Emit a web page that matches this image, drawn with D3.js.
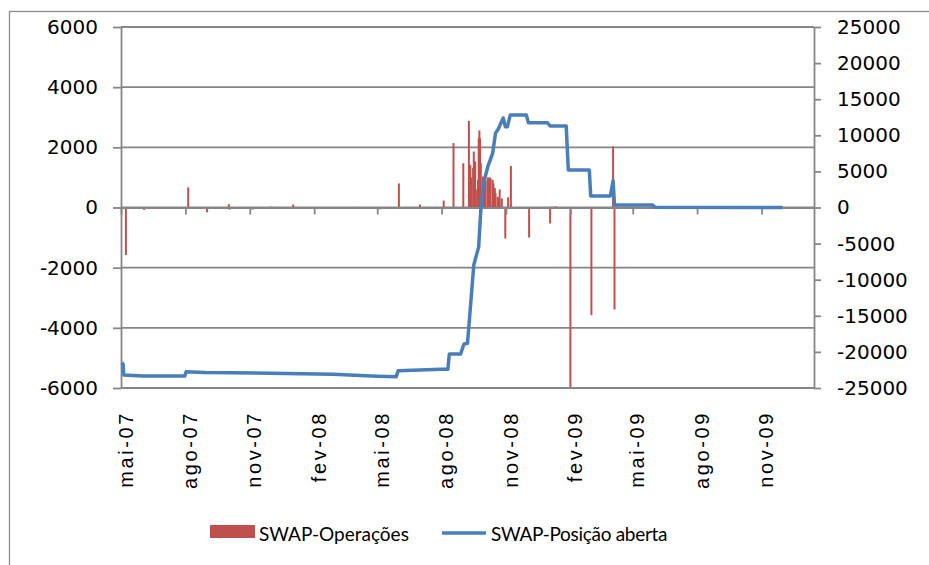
<!DOCTYPE html>
<html lang="pt">
<head>
<meta charset="utf-8">
<title>SWAP</title>
<style>
  body { margin: 0; background: #fff; }
  .axis text { fill: #000; }
  .axis path, .axis line { stroke: #868686; stroke-width: 1.8; }
</style>
</head>
<body>
<div id="graph-div"></div>
<script src="https://d3js.org/d3.v7.min.js"></script>
<script>

// SWAP-Operações (left axis)
var opDates = [
  "2007-05-08", "2007-06-03", "2007-08-05", "2007-09-01", "2007-10-02", "2007-10-03",
  "2007-11-05", "2007-12-02", "2008-01-02", "2008-02-02", "2008-03-03", "2008-04-03",
  "2008-05-05", "2008-06-01", "2008-06-17", "2008-07-01", "2008-08-04", "2008-08-18",
  "2008-09-01", "2008-09-09", "2008-09-10", "2008-09-11", "2008-09-12", "2008-09-15",
  "2008-09-16", "2008-09-17", "2008-09-18", "2008-09-19", "2008-09-22", "2008-09-23",
  "2008-09-24", "2008-09-25", "2008-09-26", "2008-09-29", "2008-09-30", "2008-10-01",
  "2008-10-03", "2008-10-06", "2008-10-07", "2008-10-08", "2008-10-09", "2008-10-10",
  "2008-10-13", "2008-10-14", "2008-10-15", "2008-10-16", "2008-10-17", "2008-10-20",
  "2008-10-21", "2008-10-23", "2008-10-26", "2008-10-31", "2008-11-04", "2008-11-08",
  "2008-12-04", "2009-01-03", "2009-01-06", "2009-01-11", "2009-02-01", "2009-03-03",
  "2009-04-03", "2009-04-05"
];
var opValues = [
  -1580, -80, 670, -160, 110, -70,
  -70, 30, 100, -50, -50, 20,
  -60, 800, -50, 100, 230, 2140,
  1470, 2880, 950, 1420, 1000, 1320,
  1860, 1360, 1530, 600, 920, 2300,
  2560, 2300, 1480, 1030, 920, 860,
  900, 1000, 920, 980, 1000, 970,
  920, 800, 640, 650, 480, 360,
  320, 600, 300, -1030, 340, 1380,
  -1000, -530, 30, 40, -5970, -3580,
  2030, -3390
];

// SWAP-Posição aberta (right axis)
var posDates = [
  "2007-05-02", "2007-05-04", "2007-05-05", "2007-06-01", "2007-07-31", "2007-08-02",
  "2007-08-29", "2007-11-30", "2008-02-28", "2008-05-01", "2008-05-28", "2008-05-31",
  "2008-07-01", "2008-07-30", "2008-08-10", "2008-08-12", "2008-08-28", "2008-09-02",
  "2008-09-07", "2008-09-12", "2008-09-16", "2008-09-23", "2008-09-26", "2008-09-30",
  "2008-10-06", "2008-10-13", "2008-10-17", "2008-10-21", "2008-10-28", "2008-10-31",
  "2008-11-03", "2008-11-07", "2008-11-30", "2008-12-03", "2008-12-30", "2009-01-03",
  "2009-01-26", "2009-01-29", "2009-02-28", "2009-03-02", "2009-03-30", "2009-04-03",
  "2009-04-05", "2009-05-29", "2009-06-02", "2009-12-01"
];
var posValues = [
  -21500, -21700, -23200, -23350, -23350, -22750,
  -22850, -22950, -23100, -23380, -23450, -22600,
  -22500, -22400, -22400, -20300, -20300, -18900,
  -18800, -12800, -7960, -5430, -350, 3390,
  5650, 7540, 10300, 10870, 12400, 11200,
  11200, 12800, 12800, 11750, 11750, 11300,
  11300, 5200, 5200, 1600, 1600, 3700,
  350, 350, 30, 0
];

var tickDates = ["2007-05-01", "2007-08-01", "2007-11-01", "2008-02-01", "2008-05-01", "2008-08-01",
                 "2008-11-01", "2009-02-01", "2009-05-01", "2009-08-01", "2009-11-01"];
var tickLabels = ["mai-07", "ago-07", "nov-07", "fev-08", "mai-08", "ago-08",
                  "nov-08", "fev-09", "mai-09", "ago-09", "nov-09"];
var leftTicks = [-6000, -4000, -2000, 0, 2000, 4000, 6000];
var rightTicks = [-25000, -20000, -15000, -10000, -5000, 0, 5000, 10000, 15000, 20000, 25000];
var seriesNames = ["SWAP-Operações", "SWAP-Posição aberta"];

var parse = d3.timeParse("%Y-%m-%d");
var plain = function(d) { return String(d); };

var margin = {top: 27, right: 115, bottom: 177, left: 121},
    width = 929 - margin.left - margin.right,
    height = 565 - margin.top - margin.bottom;

var root = d3.select("#graph-div")
  .append("svg")
    .attr("width", 929)
    .attr("height", 565);

// outer chart frame
root.append("rect")
    .attr("x", 9.5).attr("y", 11.5)
    .attr("width", 940).attr("height", 600)
    .attr("fill", "none")
    .attr("stroke", "#8c8c8c")
    .attr("stroke-width", 1.3);

var svg = root.append("g")
    .attr("transform", "translate(" + margin.left + "," + margin.top + ")");

var x = d3.scaleTime()
    .domain([parse("2007-05-01"), parse("2010-01-15")])
    .range([0, width]);

var y = d3.scaleLinear().domain([-6000, 6000]).range([height, 0]);
var y2 = d3.scaleLinear().domain([-25000, 25000]).range([height, 0]);

// horizontal gridlines
svg.append("g")
  .selectAll("line")
  .data(leftTicks)
  .enter()
  .append("line")
    .attr("x1", 0)
    .attr("x2", width)
    .attr("y1", function(d) { return y(d); })
    .attr("y2", function(d) { return y(d); })
    .attr("stroke", "#868686")
    .attr("stroke-width", 1.8);

// bars
var ops = opDates.map(function(d, i) { return {date: parse(d), value: opValues[i]}; });
svg.append("g")
  .selectAll("rect")
  .data(ops)
  .enter()
  .append("rect")
    .attr("x", function(d) { return x(d.date) - 1; })
    .attr("width", 2)
    .attr("y", function(d) { return Math.min(y(d.value), y(0)); })
    .attr("height", function(d) { return Math.abs(y(d.value) - y(0)); })
    .attr("fill", "#C0504D");

// axes
svg.append("g")
    .attr("class", "axis")
    .call(d3.axisLeft(y).tickValues(leftTicks).tickFormat(plain)
      .tickSize(8).tickPadding(15).tickSizeOuter(0))
    .selectAll("text")
      .style("font-family", "DejaVu Sans")
      .style("font-size", "20px");

svg.append("g")
    .attr("class", "axis")
    .attr("transform", "translate(" + width + ",0)")
    .call(d3.axisRight(y2).tickValues(rightTicks).tickFormat(plain)
      .tickSize(7).tickPadding(16).tickSizeOuter(0))
    .selectAll("text")
      .style("font-family", "DejaVu Sans")
      .style("font-size", "20px");

var tDates = tickDates.map(parse);

svg.append("g")
    .attr("class", "axis")
    .attr("transform", "translate(0," + y(0) + ")")
    .call(d3.axisBottom(x).tickValues(tDates).tickSize(7).tickSizeOuter(0).tickFormat(""));

var xl = svg.append("g")
    .attr("class", "axis")
    .attr("transform", "translate(0," + height + ")")
    .call(d3.axisBottom(x).tickValues(tDates).tickSize(0)
      .tickFormat(function(d, i) { return tickLabels[i]; }));
xl.select(".domain").remove();
xl.selectAll("text")
    .attr("transform", "rotate(-90)")
    .attr("text-anchor", "end")
    .attr("x", -23)
    .attr("y", 4)
    .attr("dy", "0.35em")
    .style("font-family", "Liberation Sans")
    .style("font-size", "20px")
    .style("letter-spacing", "2.6px");

// position line
var pos = posDates.map(function(d, i) { return {date: parse(d), value: posValues[i]}; });
svg.append("path")
    .datum(pos)
    .attr("fill", "none")
    .attr("stroke", "#4A7EBB")
    .attr("stroke-width", 3.5)
    .attr("stroke-linejoin", "round")
    .attr("d", d3.line()
      .x(function(d) { return x(d.date); })
      .y(function(d) { return y2(d.value); }));

// legend
var legend = root.append("g").style("font-family", "Lato").style("font-size", "19px");
legend.append("rect")
    .attr("x", 210).attr("y", 525)
    .attr("width", 45).attr("height", 13)
    .attr("fill", "#C0504D");
legend.append("text").attr("x", 259).attr("y", 541).text(seriesNames[0]);
legend.append("line")
    .attr("x1", 442).attr("x2", 486)
    .attr("y1", 533).attr("y2", 533)
    .attr("stroke", "#4A7EBB")
    .attr("stroke-width", 3.5);
legend.append("text").attr("x", 491).attr("y", 541)
    .style("letter-spacing", "-0.3px").text(seriesNames[1]);

</script>
</body>
</html>
